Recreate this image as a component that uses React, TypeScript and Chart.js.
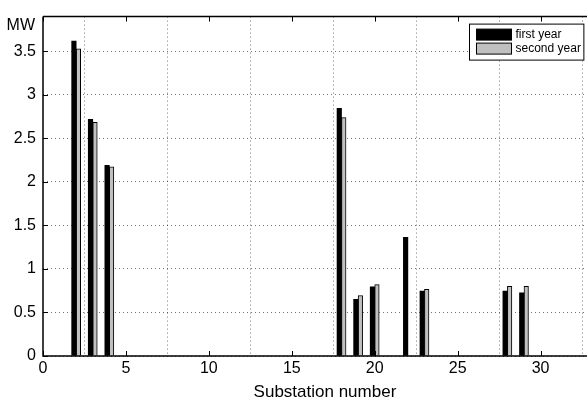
import React, { useEffect, useRef } from "react";
import { Chart, registerables } from "chart.js";

Chart.register(...registerables);

const substations = [2, 3, 4, 18, 19, 20, 22, 23, 28, 29];
const firstYear = [3.62, 2.72, 2.19, 2.845, 0.65, 0.795, 1.365, 0.745, 0.745, 0.725];
const secondYear = [3.53, 2.685, 2.175, 2.74, 0.695, 0.82, null, 0.765, 0.8, 0.8];
const seriesLabels = ["first year", "second year"];
const xTitle = "Substation number";
const yUnit = "MW";
// full axis of the original figure spans 0..34 (cropped at the right)
const xAxisFullMax = 34;

const FONT = "'Liberation Sans', Arial, Helvetica, sans-serif";

const matlabPlugin = {
  id: "matlabDecor",
  afterDraw(chart: any) {
    const { ctx, chartArea } = chart;
    const { left, right, top, bottom } = chartArea;
    const xs = chart.scales.x;
    const ys = chart.scales.y;
    ctx.save();
    ctx.strokeStyle = "#000";
    ctx.lineWidth = 1.5;
    ctx.setLineDash([]);
    ctx.beginPath();
    ctx.moveTo(left, top);
    ctx.lineTo(right, top);
    ctx.moveTo(left, top);
    ctx.lineTo(left, bottom);
    ctx.lineTo(right, bottom);
    ctx.stroke();
    ctx.lineWidth = 1;
    ctx.beginPath();
    xs.ticks.forEach((t: any) => {
      const px = Math.round(xs.getPixelForValue(t.value)) + 0.5;
      ctx.moveTo(px, bottom);
      ctx.lineTo(px, bottom - 5);
      ctx.moveTo(px, top);
      ctx.lineTo(px, top + 5);
    });
    ys.ticks.forEach((t: any) => {
      const py = Math.round(ys.getPixelForValue(t.value)) + 0.5;
      ctx.moveTo(left, py);
      ctx.lineTo(left + 5, py);
    });
    ctx.stroke();
    ctx.fillStyle = "#000";
    ctx.font = `16px ${FONT}`;
    ctx.textAlign = "right";
    ctx.textBaseline = "middle";
    ctx.fillText(yUnit, left - 8, top + 9);
    // x title centered on the full (uncropped) axis
    ctx.font = `17px ${FONT}`;
    ctx.textAlign = "center";
    ctx.fillText(xTitle, xs.getPixelForValue(xAxisFullMax / 2), 392);
    // legend
    ctx.font = `12px ${FONT}`;
    const ds = chart.data.datasets;
    const textW = Math.max(...ds.map((d: any) => ctx.measureText(d.label).width));
    const sw = 35;
    const boxW = 7 + sw + 4 + textW + 3;
    const boxH = 36;
    const bx = Math.round(right - 4 - boxW) + 0.5;
    const by = top + 7.5;
    ctx.fillStyle = "#fff";
    ctx.fillRect(bx, by, boxW, boxH);
    ctx.strokeStyle = "#000";
    ctx.lineWidth = 1;
    ctx.strokeRect(bx, by, boxW, boxH);
    ds.forEach((d: any, i: number) => {
      const sy = by + 5 + i * 14;
      ctx.fillStyle = d.backgroundColor;
      ctx.fillRect(bx + 7, sy, sw, 11);
      ctx.strokeStyle = "#000";
      ctx.strokeRect(bx + 7, sy, sw, 11);
      ctx.fillStyle = "#000";
      ctx.textAlign = "left";
      ctx.textBaseline = "middle";
      ctx.fillText(d.label, bx + 7 + sw + 4, sy + 6);
    });
    ctx.restore();
  },
};

export default function App() {
  const ref = useRef<HTMLCanvasElement | null>(null);
  useEffect(() => {
    if (!ref.current) return;
    const chart = new Chart(ref.current, {
      type: "bar",
      data: {
        datasets: [
          {
            label: seriesLabels[0],
            data: substations.map((s, i) => ({ x: s, y: firstYear[i] })),
            backgroundColor: "#000000",
            borderColor: "#000000",
            borderWidth: 0,
            barThickness: 4.5,
          },
          {
            label: seriesLabels[1],
            data: substations.map((s, i) => ({ x: s, y: secondYear[i] })),
            backgroundColor: "#c0c0c0",
            borderColor: "#000000",
            borderWidth: 1,
            barThickness: 4.5,
          },
        ] as any,
      },
      options: {
        animation: false,
        responsive: false,
        maintainAspectRatio: false,
        layout: { padding: { top: 6, right: 0, left: 0, bottom: 0 } },
        plugins: {
          legend: { display: false },
          tooltip: { enabled: false },
        },
        scales: {
          x: {
            type: "linear",
            min: 0,
            max: 32.8,
            offset: false,
            afterFit: (s: any) => {
              s.height = 50;
            },
            ticks: {
              stepSize: 5,
              includeBounds: false,
              color: "#000",
              font: { family: FONT, size: 16 },
              padding: 3,
              maxRotation: 0,
              callback: (v: any) => `${+v}`,
            },
            grid: {
              color: "rgba(0,0,0,0.55)",
              lineWidth: 1,
              drawTicks: false,
            },
            border: { display: false, dash: [1, 3] },
          },
          y: {
            min: 0,
            max: 3.9,
            afterFit: (s: any) => {
              s.width = 43;
            },
            ticks: {
              stepSize: 0.5,
              includeBounds: false,
              color: "#000",
              font: { family: FONT, size: 16 },
              padding: 7,
              callback: (v: any) => `${+(+v).toFixed(2)}`,
            },
            grid: {
              color: "rgba(0,0,0,0.55)",
              lineWidth: 1,
              drawTicks: false,
            },
            border: { display: false, dash: [1, 3] },
          },
        },
      } as any,
      plugins: [matlabPlugin],
    });
    return () => chart.destroy();
  }, []);
  return (
    <div style={{ position: "absolute", left: 0, top: 0, width: 587, height: 406, background: "#fff" }}>
      <canvas ref={ref} width={587} height={406} style={{ width: 587, height: 406 }} />
    </div>
  );
}
